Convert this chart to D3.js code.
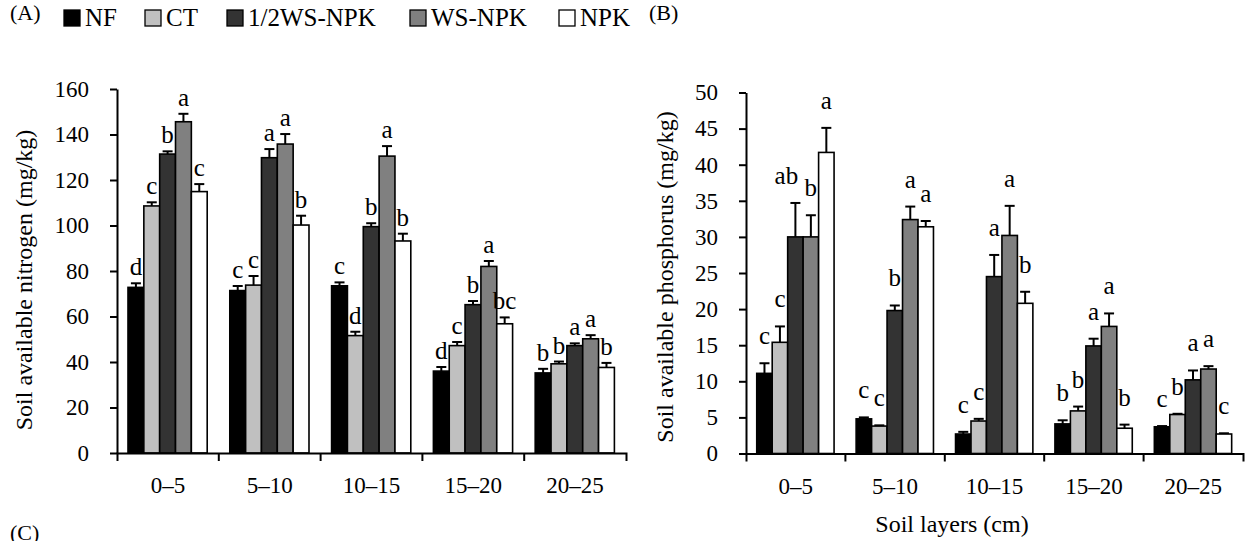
<!DOCTYPE html>
<html>
<head>
<meta charset="utf-8">
<script src="https://cdn.jsdelivr.net/npm/d3@7"></script>
<style>
  body { margin: 0; background: #fff; }
  svg { display: block; font-family: "Liberation Serif", "DejaVu Serif", serif; }
  .axis path, .axis line { stroke: #000; stroke-width: 2; }
  .axis text { font-size: 23px; fill: #000; font-family: "Liberation Serif", serif; }
</style>
</head>
<body>
<div id="chart"></div>
<script>
// soil layers (cm) and treatments
var layers = ["0–5", "5–10", "10–15", "15–20", "20–25"];
var treatments = ["NF", "CT", "1/2WS-NPK", "WS-NPK", "NPK"];
var colors = ["#000000", "#c0c0c0", "#333333", "#808080", "#ffffff"];

// (A) soil available nitrogen, rows = layers, cols = treatments
var nitrogen = [
  [72.8, 108.6, 131.4, 145.6, 114.9],
  [71.4, 73.8, 129.8, 135.8, 100.2],
  [73.5, 51.6, 99.5, 130.5, 93.2],
  [36.0, 47.2, 65.2, 82.0, 56.8],
  [35.2, 39.2, 47.2, 50.2, 37.6]
];
var nitrogenErr = [
  [1.8, 1.6, 1.2, 3.5, 3.3],
  [2.0, 4.0, 3.8, 4.4, 4.1],
  [1.5, 1.7, 1.5, 4.4, 3.2],
  [1.8, 1.6, 1.6, 2.4, 2.8],
  [1.8, 1.0, 1.0, 1.6, 2.0]
];
var nitrogenLetters = [
  ["d", "c", "b", "a", "c"],
  ["c", "c", "a", "a", "b"],
  ["c", "d", "b", "a", "b"],
  ["d", "c", "b", "a", "bc"],
  ["b", "b", "a", "a", "b"]
];
var nitrogenTicks = [0, 20, 40, 60, 80, 100, 120, 140, 160];

// (B) soil available phosphorus
var phosphorus = [
  [11.1, 15.4, 30.0, 30.0, 41.7],
  [4.8, 3.8, 19.8, 32.4, 31.4],
  [2.7, 4.5, 24.5, 30.2, 20.8],
  [4.1, 5.9, 14.9, 17.6, 3.5],
  [3.7, 5.4, 10.2, 11.7, 2.7]
];
var phosphorusErr = [
  [1.4, 2.2, 4.7, 3.0, 3.4],
  [0.2, 0.1, 0.7, 1.8, 0.8],
  [0.3, 0.3, 3.0, 4.1, 1.6],
  [0.5, 0.6, 1.0, 1.8, 0.5],
  [0.1, 0.1, 1.3, 0.4, 0.1]
];
var phosphorusLetters = [
  ["c", "c", "ab", "b", "a"],
  ["c", "c", "b", "a", "a"],
  ["c", "c", "a", "a", "b"],
  ["b", "b", "a", "a", "b"],
  ["c", "b", "a", "a", "c"]
];
var phosphorusTicks = [0, 5, 10, 15, 20, 25, 30, 35, 40, 45, 50];

var width = 1260, height = 541;
var svg = d3.select("#chart").append("svg")
  .attr("width", width).attr("height", height);

function panel(opts) {
  var x0 = d3.scaleBand().domain(layers).range([opts.left, opts.right]);
  var bw = x0.bandwidth();
  var x1 = d3.scaleBand().domain(treatments).range([bw * 0.108, bw * 0.886]);
  var y = d3.scaleLinear().domain([0, opts.max]).range([opts.bottom, opts.top]);

  var g = svg.append("g");

  var rows = g.selectAll("g.layer").data(opts.values).enter().append("g")
    .attr("class", "layer")
    .attr("transform", function(d, i) { return "translate(" + x0(layers[i]) + ",0)"; });

  rows.each(function(row, i) {
    var grp = d3.select(this);
    var cells = row.map(function(v, j) {
      return { t: treatments[j], v: v, e: opts.err[i][j], l: opts.letters[i][j], c: colors[j] };
    });
    var cx = function(d) { return x1(d.t) + x1.bandwidth() / 2; };

    // error bars (upper half only)
    grp.selectAll("line.err").data(cells).enter().append("line")
      .attr("x1", cx).attr("x2", cx)
      .attr("y1", function(d) { return y(d.v); })
      .attr("y2", function(d) { return y(d.v + d.e); })
      .attr("stroke", "#000").attr("stroke-width", 2);
    grp.selectAll("line.cap").data(cells).enter().append("line")
      .attr("x1", function(d) { return cx(d) - 5; })
      .attr("x2", function(d) { return cx(d) + 5; })
      .attr("y1", function(d) { return y(d.v + d.e); })
      .attr("y2", function(d) { return y(d.v + d.e); })
      .attr("stroke", "#000").attr("stroke-width", 2);

    grp.selectAll("rect").data(cells).enter().append("rect")
      .attr("x", function(d) { return x1(d.t); })
      .attr("width", x1.bandwidth())
      .attr("y", function(d) { return y(d.v); })
      .attr("height", function(d) { return y(0) - y(d.v); })
      .attr("fill", function(d) { return d.c; })
      .attr("stroke", "#000").attr("stroke-width", 1.6);

    // significance letters; a two-letter label crowding its right neighbour moves left
    grp.selectAll("text").data(cells).enter().append("text")
      .attr("x", function(d, j) {
        var next = cells[j + 1];
        if (d.l.length > 1 && next && Math.abs(y(next.v + next.e) - y(d.v + d.e)) < 20) return cx(d) - 9;
        return cx(d);
      })
      .attr("y", function(d) { return y(d.v + d.e) - opts.gap; })
      .attr("text-anchor", "middle")
      .style("font-size", "25px")
      .text(function(d) { return d.l; });
  });

  // y axis
  g.append("g").attr("class", "axis")
    .attr("transform", "translate(" + opts.left + ",0)")
    .call(d3.axisLeft(y).tickValues(opts.ticks).tickSize(7).tickSizeOuter(0).tickPadding(21));

  // x axis: labels at band centres, ticks on band boundaries
  var xa = g.append("g").attr("class", "axis")
    .attr("transform", "translate(0," + opts.bottom + ")")
    .call(d3.axisBottom(x0).tickSize(0).tickSizeOuter(8).tickPadding(24));
  xa.selectAll(".tick text").attr("dy", "0.71em");
  xa.selectAll("line.bound").data(layers.slice(1)).enter().append("line")
    .attr("class", "bound")
    .attr("x1", function(d) { return x0(d); })
    .attr("x2", function(d) { return x0(d); })
    .attr("y1", 0).attr("y2", 8);

  // y title
  svg.append("text")
    .attr("transform", "translate(" + opts.titleX + "," + opts.titleY + ") rotate(-90)")
    .attr("text-anchor", "middle")
    .attr("dy", "0.35em")
    .style("font-size", "24px")
    .text(opts.title);
}

panel({
  left: 117, right: 626, top: 89, bottom: 453, max: 160,
  values: nitrogen, err: nitrogenErr, letters: nitrogenLetters, ticks: nitrogenTicks,
  gap: 8, titleX: 24, titleY: 280, title: "Soil available nitrogen (mg/kg)"
});

panel({
  left: 746, right: 1243, top: 92.5, bottom: 453.5, max: 50,
  values: phosphorus, err: phosphorusErr, letters: phosphorusLetters, ticks: phosphorusTicks,
  gap: 19, titleX: 665, titleY: 277, title: "Soil available phosphorus (mg/kg)"
});

svg.append("text")
  .attr("x", 952).attr("y", 532)
  .attr("text-anchor", "middle")
  .style("font-size", "24px")
  .text("Soil layers (cm)");

// panel labels
svg.append("text").attr("x", 10).attr("y", 20).style("font-size", "22px").text("(A)");
svg.append("text").attr("x", 649).attr("y", 20).style("font-size", "22px").text("(B)");
svg.append("text").attr("x", 10).attr("y", 540).style("font-size", "22px").text("(C)");

// legend
var legendX = [64, 145, 227, 410, 559];
var legend = svg.append("g").selectAll("g").data(treatments).enter().append("g")
  .attr("transform", function(d, i) { return "translate(" + legendX[i] + ",0)"; });
legend.append("rect")
  .attr("x", 0).attr("y", 10).attr("width", 16).attr("height", 16)
  .attr("fill", function(d, i) { return colors[i]; })
  .attr("stroke", "#000").attr("stroke-width", 1.3);
legend.append("text")
  .attr("x", 21).attr("y", 26)
  .style("font-size", "25px")
  .text(function(d) { return d; });
</script>
</body>
</html>
